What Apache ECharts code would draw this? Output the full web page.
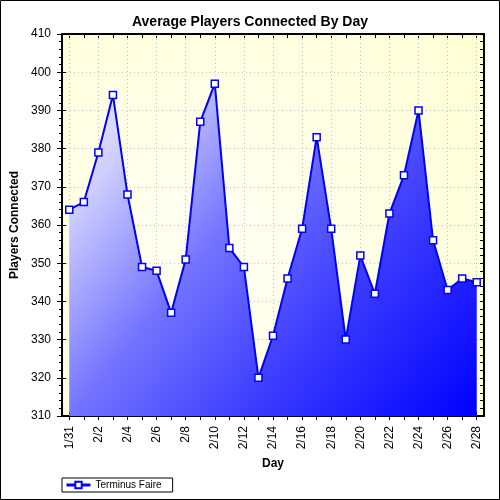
<!DOCTYPE html>
<html>
<head>
<meta charset="utf-8">
<script src="https://cdn.jsdelivr.net/npm/echarts@6/dist/echarts.min.js"></script>
<style>
  html, body { margin: 0; padding: 0; background: #fff; }
  #chart { width: 500px; height: 500px; }
</style>
</head>
<body>
<div id="chart"></div>
<script>
var days = ['1/31', '2/1', '2/2', '2/3', '2/4', '2/5', '2/6', '2/7', '2/8', '2/9',
    '2/10', '2/11', '2/12', '2/13', '2/14', '2/15', '2/16', '2/17', '2/18', '2/19',
    '2/20', '2/21', '2/22', '2/23', '2/24', '2/25', '2/26', '2/27', '2/28'];
var players = [364, 366, 379, 394, 368, 349, 348, 337, 351, 387,
    397, 354, 349, 320, 331, 346, 359, 383, 359, 330,
    352, 342, 363, 373, 390, 356, 343, 346, 345];
var seriesName = 'Terminus Faire';
var yMin = 310, yMax = 410, yStep = 10;

var font = '"Liberation Sans", Arial, sans-serif';
var chart = echarts.init(document.getElementById('chart'));

// dotted vertical grid lines sit on the labelled days
var gridDays = days.filter(function (d, i) { return i % 2 === 0; });

var blackLine = { lineStyle: { color: '#000', width: 2 } };

var option = {
    animation: false,
    title: {
        text: 'Average Players Connected By Day',
        left: 'center',
        top: 10,
        textStyle: { fontFamily: font, fontSize: 14, fontWeight: 'bold', color: '#000' }
    },
    legend: {
        data: [seriesName],
        left: 62,
        top: 478,
        borderColor: '#000',
        borderWidth: 1,
        borderRadius: 0,
        padding: [2, 11, 2, 3],
        itemWidth: 24,
        itemHeight: 8,
        lineStyle: { width: 3 },
        textStyle: { fontFamily: font, fontSize: 10, color: '#000' }
    },
    graphic: [{
        type: 'rect',
        silent: true,
        shape: { x: 0.5, y: 0.5, width: 499, height: 499 },
        style: { fill: 'none', stroke: '#000', lineWidth: 1 }
    }],
    grid: {
        left: 62, right: 16, top: 34, bottom: 84,
        show: true,
        borderWidth: 0,
        backgroundColor: new echarts.graphic.RadialGradient(0.35, 0.55, 0.9, [
            { offset: 0, color: '#fffff4' },
            { offset: 1, color: '#ffffd4' }
        ])
    },
    xAxis: [
        {
            type: 'category',
            data: days,
            position: 'bottom',
            boundaryGap: true,
            axisLine: blackLine,
            axisTick: { show: true, alignWithLabel: true, interval: 0, length: 4, lineStyle: { color: '#000' } },
            axisLabel: { interval: 1, rotate: 90, margin: 10, fontFamily: font, fontSize: 12, color: '#000' },
            splitLine: { show: false },
            name: 'Day',
            nameLocation: 'middle',
            nameGap: 42,
            nameMoveOverlap: false,
            nameTextStyle: { fontFamily: font, fontSize: 12, fontWeight: 'bold', color: '#000' }
        },
        {
            type: 'category',
            data: days,
            position: 'top',
            boundaryGap: true,
            axisLine: blackLine,
            axisTick: { show: true, inside: true, alignWithLabel: true, interval: 0, length: 4, lineStyle: { color: '#000' } },
            axisLabel: { show: false },
            splitLine: { show: false }
        },
        {
            type: 'category',
            data: days,
            position: 'bottom',
            boundaryGap: true,
            axisLine: { show: false },
            axisTick: { show: true, inside: true, alignWithLabel: true, interval: 1, length: 4, lineStyle: { color: '#000' } },
            axisLabel: { show: false },
            splitLine: { show: false }
        }
    ],
    yAxis: [
        {
            type: 'value',
            min: yMin, max: yMax, interval: yStep,
            position: 'left',
            axisLine: { show: true, lineStyle: { color: '#000', width: 2 } },
            axisTick: { show: true, length: 5, lineStyle: { color: '#000' } },
            minorTick: { show: true, splitNumber: 5, length: 3, lineStyle: { color: '#000' } },
            axisLabel: { margin: 11, fontFamily: font, fontSize: 12, color: '#000' },
            splitLine: { show: true, lineStyle: { type: [1, 3], color: '#c4c4c4', width: 1 } },
            name: 'Players Connected',
            nameLocation: 'middle',
            nameGap: 41,
            nameMoveOverlap: false,
            nameTextStyle: { fontFamily: font, fontSize: 12, fontWeight: 'bold', color: '#000' }
        },
        {
            type: 'value',
            min: yMin, max: yMax, interval: 2,
            position: 'right',
            axisLine: { show: true, lineStyle: { color: '#000', width: 2 } },
            axisTick: { show: true, inside: true, length: 4, lineStyle: { color: '#000' } },
            axisLabel: { show: false },
            splitLine: { show: false }
        },
        {
            type: 'value',
            min: yMin, max: yMax, interval: yStep,
            position: 'left',
            axisLine: { show: false },
            axisTick: { show: true, inside: true, length: 4, lineStyle: { color: '#000' } },
            axisLabel: { show: false },
            splitLine: { show: false }
        }
    ],
    series: [
        {
            // holder for the vertical dotted grid lines, kept below the area
            type: 'line',
            name: 'grid',
            z: 1,
            data: [],
            silent: true,
            markLine: {
                z: 1,
                silent: true,
                symbol: 'none',
                label: { show: false },
                lineStyle: { type: [1, 3], color: '#c4c4c4', width: 1 },
                data: gridDays.map(function (d) { return { xAxis: d }; })
            }
        },
        {
            type: 'line',
            name: seriesName,
            z: 3,
            data: players,
            symbol: 'rect',
            symbolSize: 7,
            showAllSymbol: true,
            lineStyle: { color: '#0000ff', width: 2 },
            itemStyle: { color: '#ffffff', borderColor: '#0000ff', borderWidth: 1.5 },
            areaStyle: {
                origin: 'start',
                opacity: 1,
                color: new echarts.graphic.LinearGradient(0, 0, 1, 1, [
                    { offset: 0, color: '#f4f4ff' },
                    { offset: 0.16, color: '#cdcdff' },
                    { offset: 0.4, color: '#7474ff' },
                    { offset: 0.67, color: '#3a3aff' },
                    { offset: 1, color: '#0000ff' }
                ])
            }
        }
    ]
};

chart.setOption(option);
</script>
</body>
</html>
